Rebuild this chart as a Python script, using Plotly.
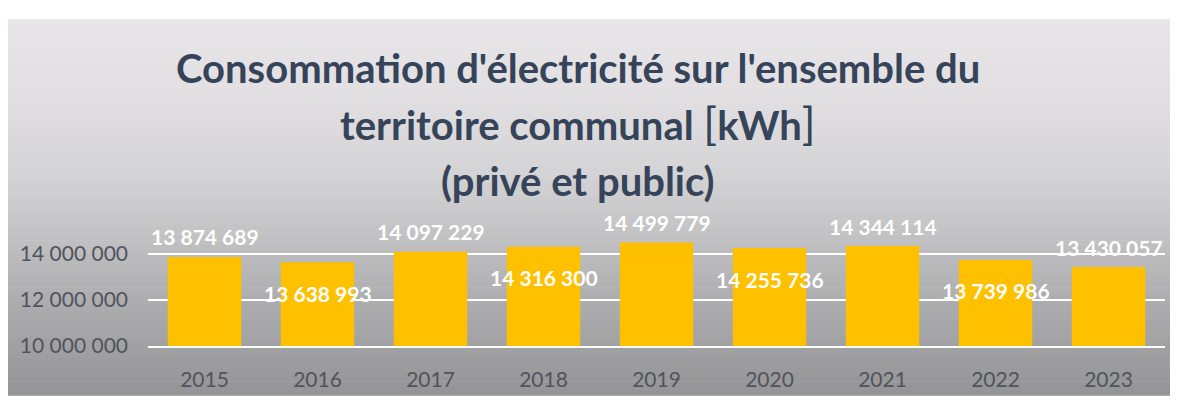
import plotly.graph_objects as go

years = ["2015", "2016", "2017", "2018", "2019", "2020", "2021", "2022", "2023"]
consumption = [13874689, 13638993, 14097229, 14316300, 14499779, 14255736, 14344114, 13739986, 13430057]
label_above = [True, False, True, False, True, False, True, False, True]
y_ticks = [10000000, 12000000, 14000000]
title_lines = [
    "Consommation d'électricité sur l'ensemble du",
    "territoire communal <span style='font-size:45px;font-weight:normal'>[</span>kWh<span style='font-size:45px;font-weight:normal'>]</span>",
    "(privé et public)",
]

# page body has an 8px margin: the figure starts at page (8, 8)
OFF = 8
W, H = 1178 - OFF, 403 - OFF
ML, MR, MT, MB = 148 - OFF, 13, 231 - OFF, 53
PW, PH = W - ML - MR, H - MT - MB

def px_x(x):
    return (x - OFF - ML) / PW

def px_y(y):
    return (H - MB - (y - OFF)) / PH

fig = go.Figure()
fig.add_trace(go.Bar(x=years, y=consumption, marker=dict(color="#FFC000", line=dict(width=0)),
                     hoverinfo="x+y"))

# gradient background panel
stops = [(12, (232, 230, 232)), (100, (224, 222, 224)), (170, (212, 211, 213)),
         (230, (196, 195, 197)), (300, (174, 174, 176)), (401, (148, 148, 150))]

def col_at(y):
    for (y0, c0), (y1, c1) in zip(stops[:-1], stops[1:]):
        if y0 <= y <= y1:
            t = (y - y0) / (y1 - y0)
            return tuple(round(a + (b - a) * t) for a, b in zip(c0, c1))
    return stops[-1][1]

shapes = []
n = 80
top, bot = 12, 401
for i in range(n):
    y0 = top + (bot - top) * i / n
    y1 = top + (bot - top) * (i + 1) / n
    c = col_at((y0 + y1) / 2)
    shapes.append(dict(type="rect", xref="paper", yref="paper", layer="below",
                       x0=px_x(7), x1=px_x(1180), y0=px_y(y1 + 0.6), y1=px_y(y0),
                       fillcolor="rgb(%d,%d,%d)" % c, line=dict(width=0)))

annotations = []
for idx, (v, above) in enumerate(zip(consumption, label_above)):
    txt = f"{v:,}".replace(",", " ")
    annotations.append(dict(x=idx, y=v, xref="x", yref="y", text=txt, showarrow=False,
                            yanchor="middle", yshift=20 if above else -31,
                            font=dict(family="Lato", size=21, color="white", weight="bold")))

title_y = [62, 119, 179]
for line, yp in zip(title_lines, title_y):
    annotations.append(dict(x=px_x(578), y=px_y(yp), xref="paper", yref="paper", text=line,
                            showarrow=False, xanchor="center", yanchor="middle",
                            font=dict(family="Lato", size=40, color="#36445a", weight="bold")))

fig.update_layout(
    width=W, height=H,
    margin=dict(l=ML, r=MR, t=MT, b=MB, pad=0),
    paper_bgcolor="white",
    plot_bgcolor="rgba(0,0,0,0)",
    separators=". ",
    showlegend=False,
    bargap=0.35,
    shapes=shapes,
    annotations=annotations,
    xaxis=dict(type="category", range=[-0.5, len(years) - 0.5], showgrid=False,
               showline=True, linecolor="white", linewidth=2,
               ticks="", ticklabelstandoff=14,
               tickfont=dict(family="Lato", size=21, color="#50545c")),
    yaxis=dict(range=[10000000, 15000000], tickvals=y_ticks, tickformat=",d",
               showgrid=True, gridcolor="white", gridwidth=2, zeroline=False,
               ticks="", ticklabelstandoff=19,
               tickfont=dict(family="Lato", size=21, color="#50545c")),
)

fig.write_html("out.html")
